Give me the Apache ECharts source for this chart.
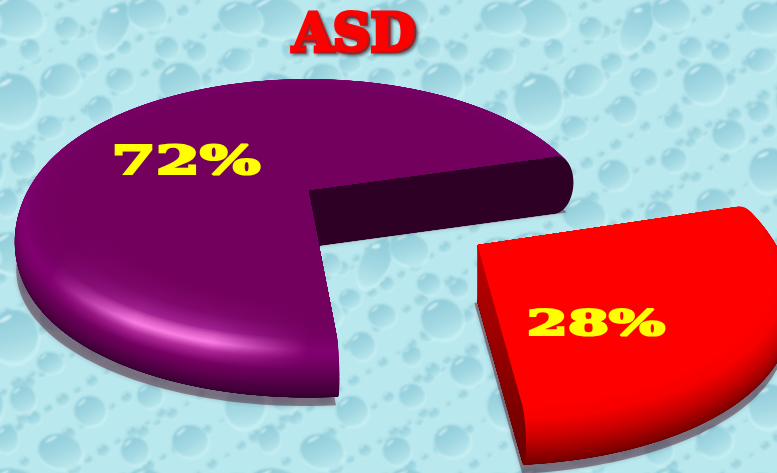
<!DOCTYPE html>
<html>
<head>
<meta charset="utf-8">
<style>html,body{margin:0;padding:0;background:#bde9ef}#chart{width:777px;height:473px}</style>
<script src="https://cdn.jsdelivr.net/npm/echarts@6/dist/echarts.min.js"></script>
</head>
<body>
<div id="chart"></div>
<script>
// Chart content
const chartTitle = 'ASD';
const sliceValues = [72, 28];
const valueSuffix = '%';

// Perspective view of the pie plane
const VIEW = { cx: 308, cy: 190, rx: 289, ry: 137, persp: 0.17 };
const FIRST_CUT_DEG = -16;   // angle where the smaller slice begins

// Per-slice appearance (in value order)
const SLICE_STYLE = [
  { explode: 0, shear: 0, squash: 0.975, depth: 57, labelX: 186, labelY: 164, labelSize: 39, labelScale: 1.63 },
  { explode: 0.665, shear: 0.12, squash: 0.915, depth: 57, labelX: 596, labelY: 326, labelSize: 36, labelScale: 1.64 }
];

// Water-drop wallpaper: large drops [x, y, rx, ry, tilt]
const TILE_W = 262, TILE_H = 236;
const BIG_DROPS = [
  [14,17,30,20,.2],[113,27,14,26,.5],[147,13,20,16,.3],[67,28,12,11,0],[30,50,10,11,0],
  [60,80,20,16,-.3],[14,100,24,26,.2],[180,83,21,20,.1],[167,48,12,11,0],[197,52,10,10,0],
  [237,60,15,12,-.2],[120,80,14,12,0],[88,63,11,10,0],[50,127,13,11,0],[100,110,13,14,0],
  [23,163,13,14,0],[7,203,11,14,0],[240,18,22,16,.2],[205,135,17,15,.1],[150,160,13,12,0],
  [90,175,16,15,0],[60,215,22,17,.2],[135,215,14,14,0],[245,170,20,22,.3],[190,205,18,16,0],
  [235,112,11,11,0],[150,120,10,10,0]
];

function dropTile() {
  const c = document.createElement('canvas');
  c.width = TILE_W; c.height = TILE_H;
  const g = c.getContext('2d');
  g.fillStyle = '#b9e8ee';
  g.fillRect(0, 0, TILE_W, TILE_H);
  g.filter = 'blur(0.9px)';
  const drop = (x, y, rx, ry, tilt) => {
    for (const ox of [-TILE_W, 0, TILE_W]) for (const oy of [-TILE_H, 0, TILE_H]) {
      g.save();
      g.translate(x + ox, y + oy);
      g.rotate(tilt);
      // soft pale crescent below the drop
      g.fillStyle = 'rgba(212,245,248,.55)';
      g.beginPath(); g.ellipse(rx * .08, ry * .12, rx * 1.05, ry * 1.05, 0, 0, 7); g.fill();
      const body = g.createLinearGradient(-rx * .6, -ry, rx * .5, ry);
      body.addColorStop(0, '#8ccad8');
      body.addColorStop(.55, '#a2d8e2');
      body.addColorStop(1, '#bce9ee');
      g.fillStyle = body;
      g.beginPath(); g.ellipse(0, 0, rx, ry, 0, 0, 7); g.fill();
      // glint at the upper left
      g.fillStyle = 'rgba(228,249,251,.75)';
      g.translate(-rx * .5, -ry * .58);
      g.rotate(-.7);
      g.beginPath(); g.ellipse(0, 0, rx * .28 + .6, Math.max(.8, ry * .08), 0, 0, 7); g.fill();
      g.restore();
    }
  };
  // small droplets follow a golden-ratio lattice so the tile stays evenly filled
  for (let i = 1; i <= 130; i++) {
    const x = (i * 0.6180339 % 1) * TILE_W, y = (i * 0.7548777 % 1) * TILE_H;
    const r = 2.2 + (i * 0.5698 % 1) * 5.5;
    drop(x, y, r, r * .95, 0);
  }
  BIG_DROPS.forEach(d => drop(d[0], d[1], d[2], d[3], d[4]));
  return c;
}

// Colour ramps along the rounded rim, t runs 0 (inner dome) to 1 (bottom edge)
const PURPLE_HI = [[0,'#72005c'],[.15,'#80086c'],[.25,'#a02090'],[.33,'#d858c0'],[.40,'#fb7ee4'],[.47,'#b02898'],[.56,'#760062'],[.7,'#520046'],[.85,'#360030'],[1,'#240020']];
const PURPLE_LO = [[0,'#72005c'],[.15,'#72005e'],[.3,'#780066'],[.40,'#820070'],[.47,'#7c006a'],[.56,'#680058'],[.7,'#4c0040'],[.85,'#340030'],[1,'#240020']];
const RED_RAMP  = [[0,'#ff0000'],[.25,'#ff0000'],[.42,'#f60000'],[.55,'#cc0000'],[.7,'#920000'],[.85,'#6c0000'],[1,'#580000']];
const SHINE = { x: 174, y: 330, r: 135 };

const hex = s => [1, 3, 5].map(i => parseInt(s.substr(i, 2), 16));
function ramp(stops, t) {
  for (let i = 1; i < stops.length; i++) {
    if (t <= stops[i][0]) {
      const a = stops[i - 1], b = stops[i], f = (t - a[0]) / (b[0] - a[0]);
      const ca = hex(a[1]), cb = hex(b[1]);
      return 'rgb(' + ca.map((v, k) => Math.round(v + (cb[k] - v) * f)).join(',') + ')';
    }
  }
  return stops[stops.length - 1][1];
}

// Pie-plane coordinates to screen
function project(u, v, z, st, vertexY) {
  const w = 1 - VIEW.persp * v;
  const x = VIEW.cx + VIEW.rx * u / w;
  const y = VIEW.cy + VIEW.ry * v / w;
  const dy = y - vertexY;
  return [x - st.shear * dy, vertexY + (dy > 0 ? dy * st.squash : dy) + z];
}

// Rim cross-section: phi 0..180 degrees from top edge to bottom edge
const profile = phi => ({
  r: 0.93 + 0.07 * Math.sin(phi),
  z: (1 - Math.cos(phi)) / 2
});

function renderSlice(params, api) {
  const i = params.dataIndex;
  const total = sliceValues.reduce((a, b) => a + b, 0);
  const toRad = d => d * Math.PI / 180;
  const smallSpan = sliceValues[1] / total * 360;
  const a0 = toRad(i === 1 ? FIRST_CUT_DEG : FIRST_CUT_DEG + smallSpan);
  const a1 = toRad(i === 1 ? FIRST_CUT_DEG + smallSpan : FIRST_CUT_DEG + 360);
  const st = SLICE_STYLE[i];
  const mid = toRad(FIRST_CUT_DEG + smallSpan / 2);
  const ou = st.explode * Math.cos(mid), ov = st.explode * Math.sin(mid);
  const vw = 1 - VIEW.persp * ov;
  const vertexY = VIEW.cy + VIEW.ry * ov / vw;

  const wedge = (r, z) => {
    const pts = [project(ou, ov, z, st, vertexY)];
    const n = Math.ceil(Math.abs(a1 - a0) / toRad(2));
    for (let k = 0; k <= n; k++) {
      const a = a0 + (a1 - a0) * k / n;
      pts.push(project(ou + r * Math.cos(a), ov + r * Math.sin(a), z, st, vertexY));
    }
    return pts;
  };
  const poly = (pts, fill) => ({ type: 'polygon', silent: true, shape: { points: pts }, style: { fill } });
  const layerFill = t => i === 1 ? ramp(RED_RAMP, t) : new echarts.graphic.RadialGradient(
    SHINE.x, SHINE.y, SHINE.r,
    [{ offset: 0, color: ramp(PURPLE_HI, t) }, { offset: .3, color: ramp(PURPLE_HI, t) }, { offset: 1, color: ramp(PURPLE_LO, t) }],
    true);

  const kids = [];
  // cast shadow beneath the slice
  const shadowPts = wedge(0.985, st.depth * 0.86).map(p => [p[0] - 3, p[1] + 9]);
  kids.push({
    type: 'polygon', silent: true, shape: { points: shadowPts },
    style: { fill: 'rgba(80,40,60,.5)', shadowBlur: 4, shadowColor: 'rgba(80,40,60,.5)' }
  });

  // rim layers from the bottom edge up to just below the top surface
  const RIM_STEPS = 72;
  for (let k = RIM_STEPS; k >= 1; k--) {
    const phi = Math.PI * k / RIM_STEPS;
    const p = profile(phi);
    const t = .25 + .75 * k / RIM_STEPS;
    kids.push(poly(wedge(p.r, p.z * st.depth), layerFill(t)));
  }

  // flat wall along the visible cut
  const wallAngle = a1;
  const wall = [project(ou, ov, 0, st, vertexY)];
  for (let k = 0; k <= RIM_STEPS; k++) {
    const p = profile(Math.PI * k / RIM_STEPS);
    wall.push(project(ou + p.r * Math.cos(wallAngle), ov + p.r * Math.sin(wallAngle), p.z * st.depth, st, vertexY));
  }
  wall.push(project(ou, ov, st.depth, st, vertexY));
  const wallFill = i === 1
    ? new echarts.graphic.LinearGradient(0, 240, 0, 460, [{ offset: 0, color: '#c40000' }, { offset: .5, color: '#960000' }, { offset: 1, color: '#6a0000' }], true)
    : '#2e0026';
  if (i === 0) kids.push(poly(wall, wallFill));

  // top surface, brightening slightly toward its edge
  const DOME_STEPS = 24;
  for (let k = DOME_STEPS; k >= 0; k--) {
    const t = .25 * k / DOME_STEPS;
    kids.push(poly(wedge(0.93 - 0.2 * (1 - k / DOME_STEPS), 0), layerFill(t)));
  }
  if (i === 1) kids.push(poly(wall, wallFill));

  kids.push({
    type: 'text', silent: true,
    x: st.labelX, y: st.labelY, scaleX: st.labelScale,
    style: {
      text: api.value(0) + valueSuffix,
      font: 'bold ' + st.labelSize + 'px "DejaVu Serif"',
      fill: '#ffff00', stroke: '#ffff00', lineWidth: 2.2,
      align: 'center', verticalAlign: 'middle',
      shadowColor: 'rgba(40,0,20,.75)', shadowBlur: 2, shadowOffsetX: 2, shadowOffsetY: 2
    }
  });
  return { type: 'group', children: kids };
}

const chart = echarts.init(document.getElementById('chart'), null, { renderer: 'canvas' });
chart.setOption({
  animation: false,
  backgroundColor: { image: dropTile(), repeat: 'repeat' },
  title: {
    text: chartTitle, left: 288, top: 6,
    textStyle: {
      fontFamily: 'DejaVu Serif', fontWeight: 'bold', fontSize: 52, color: '#ff0000',
      textBorderColor: '#ff0000', textBorderWidth: 5,
      textShadowColor: 'rgba(40,70,80,.6)', textShadowBlur: 3, textShadowOffsetX: 2, textShadowOffsetY: 2
    }
  },
  series: [{
    type: 'custom',
    coordinateSystem: 'none',
    renderItem: renderSlice,
    silent: true,
    clip: false,
    data: sliceValues.map(v => [v])
  }]
});
</script>
</body>
</html>
